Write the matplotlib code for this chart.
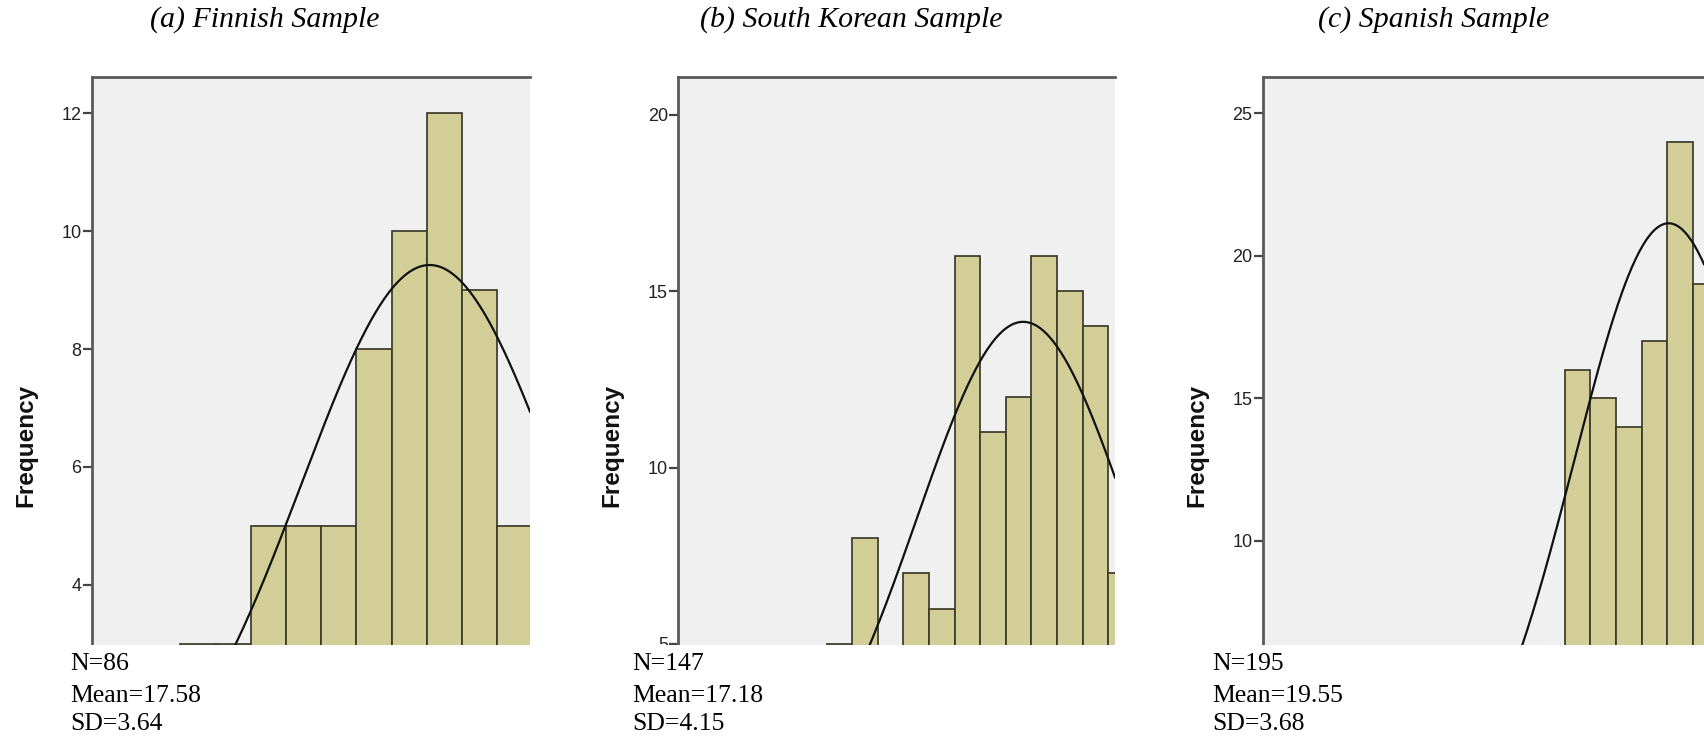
import numpy as np
import matplotlib
matplotlib.use("Agg")
import matplotlib.pyplot as plt
from matplotlib.patches import Rectangle

W, H = 1704, 740

titles = ["(a) Finnish Sample", "(b) South Korean Sample", "(c) Spanish Sample"]

# histogram counts per integer score (only the part visible in the crop)
fin_scores = [11, 12, 13, 14, 15, 16, 17, 18, 19, 20]
fin_counts = [3, 3, 5, 5, 5, 8, 10, 12, 9, 5]
kor_scores = [10, 11, 12, 13, 14, 15, 16, 17, 18, 19, 20, 21]
kor_counts = [5, 8, 3, 7, 6, 16, 11, 12, 16, 15, 14, 7]
spa_scores = [16, 17, 18, 19, 20, 21]
spa_counts = [16, 15, 14, 17, 24, 19]

sample_n = [86, 147, 195]
sample_mean = [17.58, 17.18, 19.55]
sample_sd = [3.64, 4.15, 3.68]

x_limits = [(7.98, 20.43), (3.70, 20.77), (3.73, 20.93)]
y_limits = [(2.98, 12.62), (4.97, 21.08), (6.35, 26.28)]
y_ticks = [[4, 6, 8, 10, 12], [5, 10, 15, 20], [10, 15, 20, 25]]

scores = [fin_scores, kor_scores, spa_scores]
counts = [fin_counts, kor_counts, spa_counts]

# panel geometry in pixels (from top-left)
ax_left = [91.7, 678.3, 1263]
ax_right = [530, 1115, 1704]
ax_top, ax_bottom = 76.7, 645
title_x = [265, 851, 1434]
stats_x = [70, 632, 1212]

fig = plt.figure(figsize=(W / 100, H / 100), dpi=100)

for i in range(3):
    ax = fig.add_axes([ax_left[i] / W, (H - ax_bottom) / H,
                       (ax_right[i] - ax_left[i]) / W, (ax_bottom - ax_top) / H])
    ax.set_facecolor("#f0f0f0")
    ax.bar(scores[i], counts[i], width=1.0, color="#d3ce97",
           edgecolor="#3b3a2a", linewidth=1.25)

    xs = np.linspace(x_limits[i][0], x_limits[i][1], 400)
    z = (xs - sample_mean[i]) / sample_sd[i]
    ys = sample_n[i] / (sample_sd[i] * np.sqrt(2 * np.pi)) * np.exp(-0.5 * z ** 2)
    ax.plot(xs, ys, color="#111111", linewidth=1.6)

    ax.set_xlim(*x_limits[i])
    ax.set_ylim(*y_limits[i])
    ax.set_yticks(y_ticks[i])
    ax.set_xticks([])
    for side in ["right", "bottom"]:
        ax.spines[side].set_visible(False)
    for side in ["left", "top"]:
        ax.spines[side].set_color("#5a5a5a")
        ax.spines[side].set_linewidth(2.0)
    ax.tick_params(axis="y", direction="out", length=6.5, width=1.6,
                   color="#444444", pad=1, labelsize=13, labelcolor="#222222")
    for lab in ax.get_yticklabels():
        lab.set_fontfamily("Liberation Sans")

    fig.text((ax_left[i] - 66) / W, (H - 445) / H, "Frequency", rotation=90,
             ha="center", va="center", fontsize=17.5, fontweight="bold",
             family="Liberation Sans", color="#111111")

    fig.text(title_x[i] / W, (H - 20) / H, titles[i], ha="center", va="center",
             fontsize=21.5, style="italic", family="Liberation Serif")

# white strip below the cropped axes (hides the cut tick label / bars)
fig.add_artist(Rectangle((0, 0), 1, (H - ax_bottom) / H, transform=fig.transFigure,
                         facecolor="white", edgecolor="none", zorder=5))

for i in range(3):
    lines = ["N=%d" % sample_n[i], "Mean=%.2f" % sample_mean[i], "SD=%.2f" % sample_sd[i]]
    for txt, base in zip(lines, [670, 702, 730]):
        fig.text(stats_x[i] / W, (H - base) / H, txt, ha="left", va="baseline",
                 fontsize=18.5, family="Liberation Serif", zorder=6)

fig.savefig("out.png", dpi=100)
